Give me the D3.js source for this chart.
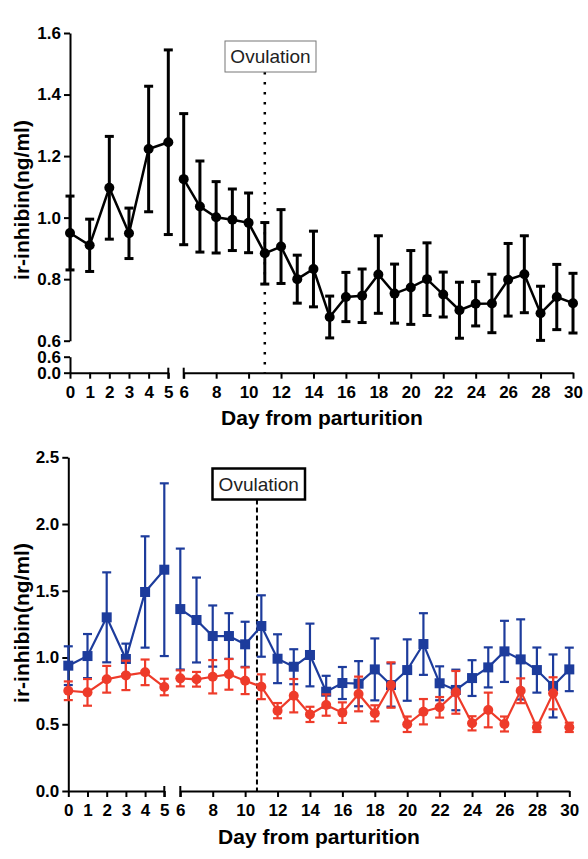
<!DOCTYPE html>
<html>
<head>
<meta charset="utf-8">
<script src="https://cdn.jsdelivr.net/npm/d3@7"></script>
<style>
  body { margin: 0; background: #fff; }
  svg { display: block; font-family: "Liberation Sans", Arial, Helvetica, sans-serif; }
  .tick text { font-weight: bold; font-size: 17px; fill: #000; }
  .axis path, .axis line { stroke: #000; stroke-width: 2; }
</style>
</head>
<body>
<div id="chart"></div>
<script>
// days 0..30
const days = d3.range(0, 31);

// top panel: mean and SEM
const topMean = [0.95, 0.91, 1.097, 0.949, 1.223, 1.245, 1.125, 1.036, 1.001, 0.993, 0.983,
    0.884, 0.906, 0.80, 0.833, 0.677, 0.742, 0.746, 0.815, 0.753, 0.773,
    0.80, 0.75, 0.699, 0.72, 0.721, 0.798, 0.816, 0.689, 0.742, 0.722];
const topSem = [0.12, 0.085, 0.167, 0.082, 0.204, 0.30, 0.213, 0.148, 0.116, 0.10, 0.097,
    0.10, 0.12, 0.078, 0.123, 0.068, 0.08, 0.087, 0.126, 0.096, 0.12,
    0.118, 0.073, 0.091, 0.072, 0.095, 0.118, 0.125, 0.088, 0.106, 0.097];

// bottom panel: blue squares
const blueMean = [0.939, 1.011, 1.301, 0.989, 1.491, 1.658, 1.363, 1.281, 1.161, 1.161, 1.099,
    1.236, 0.991, 0.931, 1.019, 0.744, 0.809, 0.804, 0.911, 0.794, 0.906,
    1.101, 0.807, 0.757, 0.846, 0.926, 1.046, 0.986, 0.906, 0.787, 0.911];
const blueSem = [0.145, 0.165, 0.337, 0.115, 0.417, 0.647, 0.453, 0.318, 0.229, 0.171, 0.169,
    0.23, 0.183, 0.131, 0.235, 0.119, 0.12, 0.169, 0.232, 0.162, 0.23,
    0.231, 0.127, 0.152, 0.134, 0.15, 0.229, 0.30, 0.169, 0.236, 0.163];

// bottom panel: red circles
const redMean = [0.751, 0.739, 0.837, 0.866, 0.889, 0.779, 0.844, 0.837, 0.856, 0.874, 0.826,
    0.781, 0.602, 0.714, 0.574, 0.644, 0.587, 0.727, 0.582, 0.794, 0.50,
    0.594, 0.627, 0.739, 0.507, 0.607, 0.502, 0.751, 0.477, 0.732, 0.477];
const redSem = [0.07, 0.10, 0.10, 0.11, 0.096, 0.062, 0.06, 0.055, 0.125, 0.115, 0.10,
    0.093, 0.057, 0.125, 0.057, 0.08, 0.077, 0.13, 0.06, 0.17, 0.058,
    0.095, 0.077, 0.16, 0.053, 0.13, 0.056, 0.093, 0.035, 0.12, 0.035];

const xTicksA = [0, 1, 2, 3, 4, 5];
const xTicksB = [6, 8, 10, 12, 14, 16, 18, 20, 22, 24, 26, 28, 30];
const topYTicks = [0.6, 0.8, 1.0, 1.2, 1.4, 1.6];
const topYTicksLow = [0.0, 0.6];
const bottomYTicks = [0.0, 0.5, 1.0, 1.5, 2.0, 2.5];

const svg = d3.select("#chart").append("svg")
    .attr("width", 588)
    .attr("height", 859);

const fmt = d3.format(".1f");
const fmtDay = d3.format("d");

const makeRows = (mean, sem) => days.map((d, i) => ({ day: d, v: mean[i], e: sem[i] }));

// panel with broken x axis (0-5 | 6-30)
function drawPanel(cfg) {
    const g = svg.append("g");
    const xA = d3.scaleLinear().domain([0, 5]).range(cfg.xA);
    const xB = d3.scaleLinear().domain([6, 30]).range(cfg.xB);
    const x = d => d <= 5 ? xA(d) : xB(d);
    const y = cfg.y;
    const axisY = cfg.axisY;

    // y axis
    g.append("g").attr("class", "axis")
        .attr("transform", `translate(${cfg.xA[0]},0)`)
        .call(d3.axisLeft(y).tickValues(cfg.yTicks).tickFormat(fmt).tickSize(6).tickPadding(3).tickSizeOuter(0));

    if (cfg.yLow) {
        g.append("g").attr("class", "axis")
            .attr("transform", `translate(${cfg.xA[0]},0)`)
            .call(d3.axisLeft(cfg.yLow).tickValues(topYTicksLow).tickFormat(fmt).tickSize(6).tickPadding(3).tickSizeOuter(0));
    }

    // x axis, two segments
    g.append("g").attr("class", "axis")
        .attr("transform", `translate(0,${axisY})`)
        .call(d3.axisBottom(xA).tickValues(xTicksA).tickFormat(fmtDay).tickSize(6).tickPadding(7).tickSizeOuter(0));
    g.append("g").attr("class", "axis")
        .attr("transform", `translate(0,${axisY})`)
        .call(d3.axisBottom(xB).tickValues(xTicksB).tickFormat(fmtDay).tickSize(6).tickPadding(7).tickSizeOuter(0));
    // break marks
    [xA(5), xB(6)].forEach(px => {
        g.append("line")
            .attr("x1", px).attr("x2", px)
            .attr("y1", axisY - 5).attr("y2", axisY + 6)
            .attr("stroke", "#000").attr("stroke-width", 2);
    });

    // ovulation line and box
    const ox = xB(cfg.ovDay);
    g.append("line")
        .attr("x1", ox).attr("x2", ox)
        .attr("y1", cfg.box.y + cfg.box.h).attr("y2", axisY)
        .attr("stroke", "#000")
        .attr("stroke-width", cfg.ovWidth)
        .attr("stroke-dasharray", cfg.ovDash);
    g.append("rect")
        .attr("x", cfg.box.x).attr("y", cfg.box.y)
        .attr("width", cfg.box.w).attr("height", cfg.box.h)
        .attr("fill", "#fff")
        .attr("stroke", cfg.box.stroke)
        .attr("stroke-width", cfg.box.sw);
    g.append("text")
        .attr("x", cfg.box.x + cfg.box.w / 2)
        .attr("y", cfg.box.y + cfg.box.h / 2)
        .attr("dy", "0.36em")
        .attr("text-anchor", "middle")
        .attr("font-size", 19)
        .attr("fill", "#222")
        .text("Ovulation");

    // series
    cfg.series.forEach(s => {
        const rows = makeRows(s.mean, s.sem);
        const sg = g.append("g");
        const cap = 4.5;

        const line = d3.line().x(d => x(d.day)).y(d => y(d.v));
        [rows.filter(d => d.day <= 5), rows.filter(d => d.day >= 6)].forEach(part => {
            sg.append("path")
                .attr("d", line(part))
                .attr("fill", "none")
                .attr("stroke", s.color)
                .attr("stroke-width", s.lw);
        });

        const eb = sg.selectAll("g.err").data(rows).join("g").attr("class", "err")
            .attr("stroke", s.color).attr("stroke-width", s.ew);
        eb.append("line")
            .attr("x1", d => x(d.day)).attr("x2", d => x(d.day))
            .attr("y1", d => y(d.v - d.e)).attr("y2", d => y(d.v + d.e));
        eb.append("line")
            .attr("x1", d => x(d.day) - cap).attr("x2", d => x(d.day) + cap)
            .attr("y1", d => y(d.v + d.e)).attr("y2", d => y(d.v + d.e));
        eb.append("line")
            .attr("x1", d => x(d.day) - cap).attr("x2", d => x(d.day) + cap)
            .attr("y1", d => y(d.v - d.e)).attr("y2", d => y(d.v - d.e));

        if (s.shape === "square") {
            sg.selectAll("rect.mk").data(rows).join("rect").attr("class", "mk")
                .attr("x", d => x(d.day) - 5).attr("y", d => y(d.v) - 5)
                .attr("width", 10).attr("height", 10)
                .attr("fill", s.color);
        } else {
            sg.selectAll("circle.mk").data(rows).join("circle").attr("class", "mk")
                .attr("cx", d => x(d.day)).attr("cy", d => y(d.v))
                .attr("r", s.r)
                .attr("fill", s.color);
        }
    });

    // axis titles
    g.append("text")
        .attr("x", cfg.titleX).attr("y", cfg.titleY)
        .attr("text-anchor", "middle")
        .attr("font-size", 21).attr("font-weight", "bold")
        .text("Day from parturition");
    g.append("text")
        .attr("transform", `translate(29,${cfg.yLabelY}) rotate(-90)`)
        .attr("text-anchor", "middle")
        .attr("font-size", 21).attr("font-weight", "bold")
        .text("ir-inhibin(ng/ml)");
}

// top panel
drawPanel({
    xA: [70, 168.3],
    xB: [183.7, 573],
    y: d3.scaleLinear().domain([0.6, 1.6]).range([340.7, 33]),
    yLow: d3.scaleLinear().domain([0, 0.6]).range([372.7, 356.7]),
    yTicks: topYTicks,
    axisY: 372.7,
    ovDay: 11,
    ovDash: "2.5,7.5",
    ovWidth: 2.5,
    box: { x: 225, y: 41, w: 91, h: 31, stroke: "#777", sw: 1 },
    series: [
        { mean: topMean, sem: topSem, color: "#000", lw: 2.5, ew: 3, shape: "circle", r: 5 }
    ],
    titleX: 322, titleY: 425,
    yLabelY: 200
});

// bottom panel
drawPanel({
    xA: [68.3, 164.3],
    xB: [180.3, 569.3],
    y: d3.scaleLinear().domain([0, 2.5]).range([791, 457.3]),
    yLow: null,
    yTicks: bottomYTicks,
    axisY: 791,
    ovDay: 10.73,
    ovDash: "5,3",
    ovWidth: 2,
    box: { x: 212.5, y: 468.5, w: 92.5, h: 31, stroke: "#000", sw: 2.5 },
    series: [
        { mean: blueMean, sem: blueSem, color: "#1d3c9c", lw: 2.2, ew: 2.2, shape: "square" },
        { mean: redMean, sem: redSem, color: "#ee3b2a", lw: 2.2, ew: 2.2, shape: "circle", r: 5 }
    ],
    titleX: 319, titleY: 844,
    yLabelY: 623
});
</script>
</body>
</html>
